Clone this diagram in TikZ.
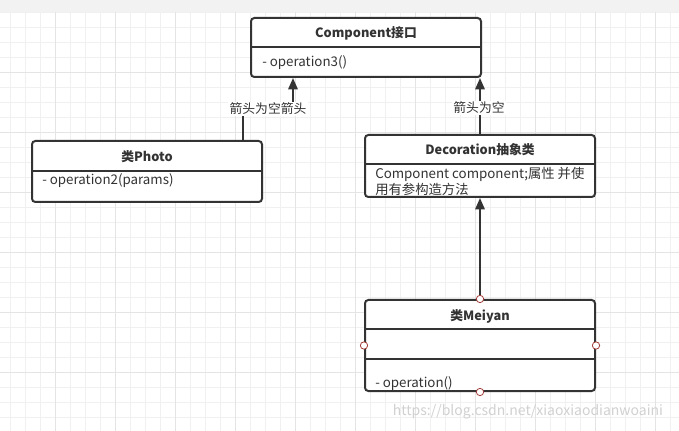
\documentclass[tikz,border=0pt]{standalone}
\usepackage{fontspec}
\setmainfont{Noto Sans CJK SC}
\usetikzlibrary{arrows.meta}
\definecolor{ink}{HTML}{333333}
\definecolor{gridminor}{HTML}{F0F0F0}
\definecolor{gridmajor}{HTML}{E4E4E4}
\definecolor{portred}{HTML}{A33A3A}
\tikzset{
  umlbox/.style={draw=ink, line width=1.5pt, rounded corners=2.5pt, fill=white, rectangle, minimum width=172.5pt, inner sep=0pt},
  divider/.style={draw=ink, line width=1.5pt},
  titletext/.style={font=\fontsize{9.6}{11}\selectfont\bfseries, text=ink, inner sep=0pt},
  bodytext/.style={font=\fontsize{10}{12}\selectfont, text=ink, inner sep=0pt, anchor=west, align=left},
  conn/.style={draw=ink, line width=1.5pt, -{Triangle[width=7pt,length=8.5pt]}},
  lbl/.style={font=\fontsize{9.6}{11}\selectfont, text=ink, fill=white, inner sep=1pt},
  port/.style={circle, draw=portred, fill=white, line width=0.6pt, minimum size=5.5pt, inner sep=0pt},
}
\begin{document}
\begin{tikzpicture}[x=0.75pt, y=-0.75pt]
\useasboundingbox (0,0) rectangle (679,431);
\fill[white] (0,0) rectangle (679,431);
% grid
\foreach \x in {10,25,...,679} \draw[gridminor, line width=0.6pt] (\x,12) -- (\x,431);
\foreach \y in {12,27,...,431} \draw[gridminor, line width=0.6pt] (0,\y) -- (679,\y);
\foreach \x in {55,115,...,679} \draw[gridmajor, line width=0.7pt] (\x,12) -- (\x,431);
\foreach \y in {72,132,...,431} \draw[gridmajor, line width=0.7pt] (0,\y) -- (679,\y);
\fill[black!5] (0,0) rectangle (679,12);

% boxes
\node[umlbox, minimum height=44.25pt] (comp) at (366,47.5) {};
\draw[divider] ([yshift=-22.5pt]comp.north west) -- ([yshift=-22.5pt]comp.north east);
\node[titletext] (compt) at (366,33) {Component接口};
\node[bodytext] (compb) at (262,63) {- operation3()};

\node[umlbox, minimum height=45.75pt] (photo) at (147,171.5) {};
\draw[divider] ([yshift=-23.25pt]photo.north west) -- ([yshift=-23.25pt]photo.north east);
\node[titletext] (photot) at (147,157) {类Photo};
\node[bodytext] (photob) at (42,181) {- operation2(params)};

\node[umlbox, minimum height=46.5pt] (deco) at (480,166) {};
\draw[divider] ([yshift=-22.5pt]deco.north west) -- ([yshift=-22.5pt]deco.north east);
\node[titletext] (decot) at (480,150) {Decoration抽象类};
\node[bodytext] (decob) at (375,181) {Component component;属性 并使\\用有参构造方法};

\node[umlbox, minimum height=68.25pt] (mei) at (480,345.5) {};
\draw[divider] ([yshift=-22.5pt]mei.north west) -- ([yshift=-22.5pt]mei.north east);
\draw[divider] ([yshift=-45pt]mei.north west) -- ([yshift=-45pt]mei.north east);
\node[titletext] (meit) at (480,316) {类Meiyan};
\node[bodytext] (meib) at (375,384) {- operation()};

% connectors
\coordinate (l1) at (268,109);
\draw[conn] ([xshift=72pt]photo.north) |- (l1) -| ([xshift=-54.75pt]comp.south);
\node[lbl] (lab1) at (l1) {箭头为空箭头};
\draw[conn] (deco.north) -- (deco.north |- comp.south);
\node[lbl] (lab2) at (479,108) {箭头为空};
\draw[conn] (mei.north) -- (deco.south);

% ports
\node[port] (p1) at (mei.north) {};
\node[port] (p2) at (mei.west) {};
\node[port] (p3) at (mei.east) {};
\node[port] (p4) at (mei.south) {};

% watermark
\node[font=\fontsize{10.5}{12}\selectfont, text=black!18, inner sep=0pt] (wm) at (528,412) {https://blog.csdn.net/xiaoxiaodianwoaini};
\end{tikzpicture}
\end{document}
